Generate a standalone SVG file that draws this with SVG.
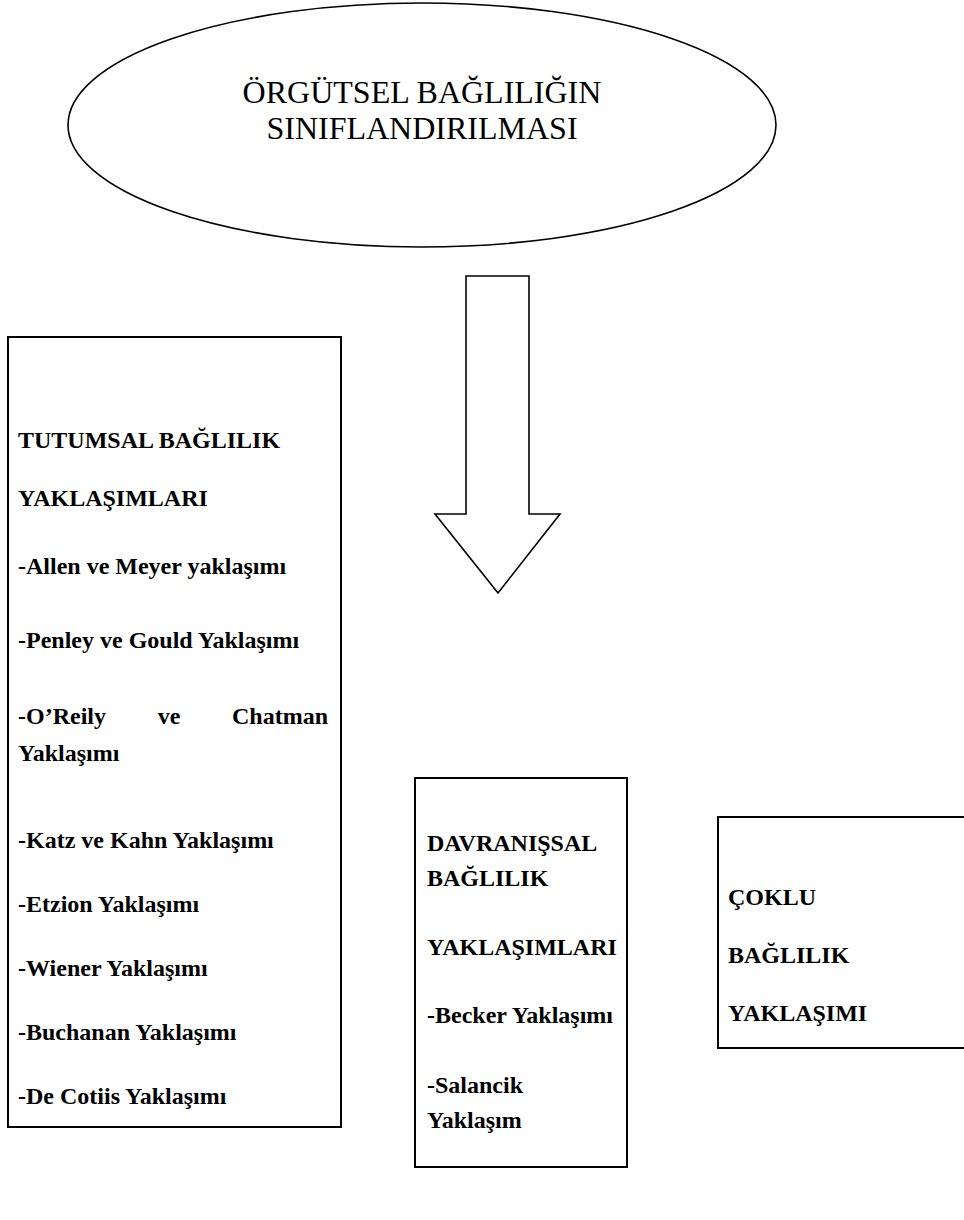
<svg xmlns="http://www.w3.org/2000/svg" width="964" height="1220" viewBox="0 0 964 1220">
<style>
.shape{fill:#fff;stroke:#000;stroke-width:1.6}
.box{fill:#fff;stroke:#000;stroke-width:2}
.title{font-family:"Liberation Serif","Times New Roman",serif;font-size:32px;fill:#000;text-anchor:middle}
.lbl{font-family:"Liberation Serif","Times New Roman",serif;font-size:24px;font-weight:bold;fill:#000}
</style>
<rect width="964" height="1220" fill="#fff"/>
<g id="title-node">
<ellipse class="shape" cx="422" cy="125" rx="354" ry="122"/>
<text class="title" x="422" y="103">ÖRGÜTSEL BAĞLILIĞIN</text>
<text class="title" x="422" y="139">SINIFLANDIRILMASI</text>
</g>
<g id="connectors">
<polygon class="shape" points="466,276 529,276 529,514 560,514 498,593 435,514 466,514"/>
</g>
<g id="tutumsal-node">
<rect class="box" x="8" y="337" width="333" height="790"/>
<text class="lbl" x="18" y="448">TUTUMSAL BAĞLILIK</text>
<text class="lbl" x="18" y="506">YAKLAŞIMLARI</text>
<text class="lbl" x="18" y="574">-Allen ve Meyer yaklaşımı</text>
<text class="lbl" x="18" y="648">-Penley ve Gould Yaklaşımı</text>
<text class="lbl" x="18" y="724">-O’Reily</text>
<text class="lbl" x="169" y="724" text-anchor="middle">ve</text>
<text class="lbl" x="328" y="724" text-anchor="end">Chatman</text>
<text class="lbl" x="18" y="761">Yaklaşımı</text>
<text class="lbl" x="18" y="848">-Katz ve Kahn Yaklaşımı</text>
<text class="lbl" x="18" y="912">-Etzion Yaklaşımı</text>
<text class="lbl" x="18" y="976">-Wiener Yaklaşımı</text>
<text class="lbl" x="18" y="1040">-Buchanan Yaklaşımı</text>
<text class="lbl" x="18" y="1104">-De Cotiis Yaklaşımı</text>
</g>
<g id="davranissal-node">
<rect class="box" x="415" y="778" width="212" height="389"/>
<text class="lbl" x="427" y="851">DAVRANIŞSAL</text>
<text class="lbl" x="427" y="886">BAĞLILIK</text>
<text class="lbl" x="427" y="955">YAKLAŞIMLARI</text>
<text class="lbl" x="427" y="1023">-Becker Yaklaşımı</text>
<text class="lbl" x="427" y="1093">-Salancik</text>
<text class="lbl" x="427" y="1128">Yaklaşım</text>
</g>
<g id="coklu-node">
<rect class="box" x="718" y="817" width="250" height="231"/>
<text class="lbl" x="728" y="905">ÇOKLU</text>
<text class="lbl" x="728" y="963">BAĞLILIK</text>
<text class="lbl" x="728" y="1021">YAKLAŞIMI</text>
</g>
</svg>
